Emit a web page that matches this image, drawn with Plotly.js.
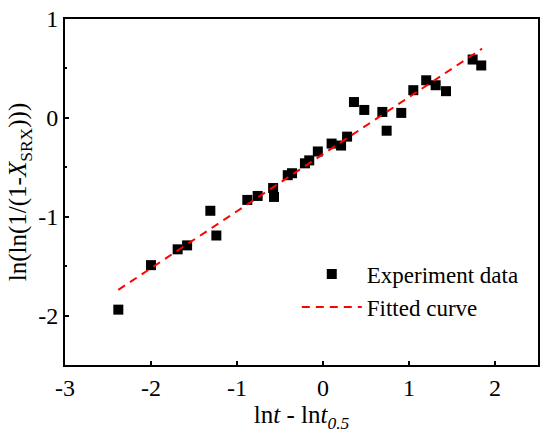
<!DOCTYPE html>
<html>
<head>
<meta charset="utf-8">
<script src="https://cdn.plot.ly/plotly-3.0.1.min.js"></script>
<style>html,body{margin:0;padding:0;background:#fff;}#chart{width:550px;height:444px;}</style>
</head>
<body>
<div id="chart"></div>
<script>
// Experiment data
var expX = [-2.38, -2.00, -1.69, -1.58, -1.31, -1.24, -0.88, -0.76, -0.58, -0.57,
            -0.41, -0.36, -0.21, -0.16, -0.06, 0.10, 0.21, 0.28, 0.36, 0.48,
            0.69, 0.74, 0.91, 1.05, 1.20, 1.31, 1.43, 1.74, 1.84];
var expY = [-1.94, -1.49, -1.33, -1.29, -0.94, -1.19, -0.83, -0.79, -0.71, -0.80,
            -0.58, -0.56, -0.46, -0.43, -0.34, -0.26, -0.28, -0.19, 0.16, 0.08,
            0.06, -0.13, 0.05, 0.28, 0.38, 0.33, 0.27, 0.59, 0.53];
// Fitted curve end points
var fitX = [-2.38, 1.85];
var fitY = [-1.74, 0.70];

var xTicks = [-3, -2, -1, 0, 1, 2];
var yTicks = [-2, -1, 0, 1];

var serif = 'Liberation Serif, Times New Roman, serif';

var traces = [
  {x: expX, y: expY, mode: 'markers', type: 'scatter', name: 'Experiment data',
   marker: {symbol: 'square', size: 10, color: '#000'}},
  {x: fitX, y: fitY, mode: 'lines', type: 'scatter', name: 'Fitted curve',
   line: {color: '#ff0000', width: 2, dash: '8px,6px'}}
];

var layout = {
  width: 550, height: 444,
  margin: {l: 65, r: 12, t: 19, b: 79},
  paper_bgcolor: '#fff', plot_bgcolor: '#fff',
  font: {family: serif, size: 23, color: '#000'},
  showlegend: true,
  legend: {x: 0.49, y: 0.325, xanchor: 'left', yanchor: 'top', bgcolor: 'rgba(0,0,0,0)',
           font: {family: serif, size: 23, color: '#000'}, itemwidth: 60, tracegroupgap: 0},
  xaxis: {
    range: [-3, 2.5], tickvals: xTicks, ticktext: xTicks.map(String),
    ticks: 'inside', ticklen: 4, tickwidth: 2, tickcolor: '#000',
    showline: true, linecolor: '#000', linewidth: 2, mirror: true,
    showgrid: false, zeroline: false,
    tickfont: {family: serif, size: 24, color: '#000'},
    title: {text: 'ln<i>t</i> - ln<i>t</i><sub><i>0.5</i></sub>', font: {family: serif, size: 25, color: '#000'}, standoff: 6}
  },
  yaxis: {
    range: [-2.5, 1], tickvals: yTicks, ticktext: yTicks.map(String),
    ticks: 'inside', ticklen: 4, tickwidth: 2, tickcolor: '#000',
    minor: {dtick: 0.5, ticks: 'inside', ticklen: 2, tickwidth: 2, tickcolor: '#000', showgrid: false},
    showline: true, linecolor: '#000', linewidth: 2, mirror: true,
    showgrid: false, zeroline: false,
    tickfont: {family: serif, size: 24, color: '#000'},
    title: {text: 'ln(ln(1/(1-<i>X</i><sub>SRX</sub>)))', font: {family: serif, size: 25, color: '#000'}, standoff: 4}
  }
};

Plotly.newPlot('chart', traces, layout, {staticPlot: true, displayModeBar: false});
</script>
</body>
</html>
